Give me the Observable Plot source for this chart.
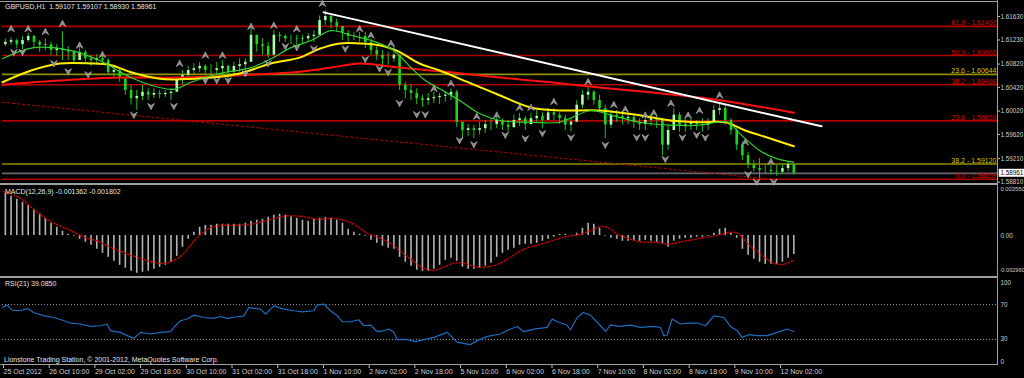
<!DOCTYPE html>
<html><head><meta charset="utf-8">
<script src="https://cdn.jsdelivr.net/npm/d3@7"></script>
<script src="https://cdn.jsdelivr.net/npm/@observablehq/plot@0.6"></script>
<style>
body{margin:0;background:#000;}
#wrap{position:relative;width:1024px;height:378px;overflow:hidden;background:#000;font-family:"Liberation Sans",Arial,sans-serif;}
.panel{position:absolute;left:0;}
.ln{position:absolute;background:#a0a0a0;}
.lbl{position:absolute;color:#e4e4e4;font-size:7px;line-height:8px;white-space:pre;}
</style></head><body>
<div id="wrap">
  <div class="panel" id="pPrice" style="top:0px"></div>
  <div class="panel" id="pMacd" style="top:185px"></div>
  <div class="panel" id="pRsi" style="top:277px"></div>
  <div class="ln" style="left:0;top:1px;width:998px;height:1px"></div>
  <div class="ln" style="left:0;top:183px;width:998px;height:2px"></div>
  <div class="ln" style="left:0;top:276px;width:998px;height:2px"></div>
  <div class="ln" style="left:0;top:364px;width:998px;height:1px"></div>
  <div class="ln" style="left:997px;top:0;width:1px;height:365px"></div>
  <div class="lbl" style="left:5px;top:3px">GBPUSD,H1  1.59107 1.59107 1.58930 1.58961</div>
  <div class="lbl" style="left:5px;top:188px">MACD(12,26,9) -0.001362 -0.001802</div>
  <div class="lbl" style="left:5px;top:280px">RSI(21) 39.0850</div>
  <div class="lbl" style="left:4px;top:356px">Lionstone Trading Station, © 2001-2012, MetaQuotes Software Corp.</div>
</div>
<script>
// ---------- data ----------
const tickHours = [0,16,32,48,64,80,96,112,128,144,160,176,192,208,224,240,256,272];
const timeLabels = ["25 Oct 2012","26 Oct 10:00","29 Oct 02:00","29 Oct 18:00","30 Oct 10:00","31 Oct 02:00","31 Oct 18:00","1 Nov 10:00","2 Nov 02:00","2 Nov 18:00","5 Nov 10:00","6 Nov 02:00","6 Nov 18:00","7 Nov 10:00","8 Nov 02:00","8 Nov 18:00","9 Nov 10:00","12 Nov 02:00"];
const priceTicks = [1.6163,1.6123,1.6082,1.6042,1.6002,1.5962,1.5921,1.5881];
const xMaxHour = 348.3;
const priceDomain = [1.58787, 1.61868];

// 2-hour bars
const barHigh = [1.6125,1.6127,1.6125,1.6129,1.6134,1.6131,1.6122,1.6125,1.6119,1.6115,
1.6137,1.6112,1.6105,1.6112,1.6105,1.6097,1.6098,1.6102,1.6091,1.6080,
1.6074,1.6057,1.6046,1.6037,1.6046,1.6040,1.6040,1.6037,1.6037,1.6040,
1.6057,1.6071,1.6078,1.6083,1.6085,1.6081,1.6081,1.6085,1.6088,1.6080,
1.6085,1.6091,1.6091,1.6148,1.6131,1.6125,1.6119,1.6139,1.6136,1.6132,
1.6131,1.6131,1.6131,1.6134,1.6139,1.6164,1.6173,1.6166,1.6159,1.6142,
1.6139,1.6136,1.6136,1.6136,1.6125,1.6114,1.6105,1.6102,1.6114,1.6097,
1.6051,1.6047,1.6040,1.6029,1.6032,1.6034,1.6032,1.6034,1.6040,1.6037,
1.5983,1.5979,1.5978,1.5983,1.5986,1.5989,1.5993,1.5989,1.5986,1.5995,
1.5998,1.5993,1.5998,1.6003,1.5999,1.6006,1.6006,1.5999,1.5995,1.5989,
1.6020,1.6037,1.6044,1.6037,1.6029,1.6012,1.6003,1.6003,1.5999,1.5999,
1.5995,1.5989,1.5993,1.5996,1.5993,1.5989,1.5978,1.6006,1.5999,1.5989,
1.5989,1.5986,1.5989,1.5989,1.6012,1.6015,1.6012,1.5989,1.5972,1.5949,
1.5932,1.5918,1.5921,1.5911,1.5910,1.5910,1.5911,1.5915,1.59107];
const barLow = [1.6112,1.6114,1.6108,1.6107,1.6119,1.6110,1.6102,1.6105,1.6097,1.6095,
1.6088,1.6088,1.6081,1.6088,1.6085,1.6078,1.6080,1.6081,1.6063,1.6057,
1.6051,1.6029,1.6012,1.6003,1.6020,1.6020,1.6023,1.6023,1.6025,1.6020,
1.6034,1.6046,1.6054,1.6063,1.6068,1.6061,1.6057,1.6061,1.6063,1.6054,
1.6063,1.6068,1.6063,1.6085,1.6102,1.6097,1.6091,1.6114,1.6119,1.6119,
1.6115,1.6114,1.6115,1.6119,1.6119,1.6131,1.6148,1.6142,1.6136,1.6122,
1.6119,1.6122,1.6119,1.6108,1.6097,1.6088,1.6080,1.6080,1.6085,1.6037,
1.6023,1.6020,1.6013,1.6008,1.6012,1.6015,1.6013,1.6017,1.6020,1.5974,
1.5955,1.5959,1.5955,1.5961,1.5964,1.5969,1.5972,1.5969,1.5966,1.5972,
1.5976,1.5969,1.5978,1.5983,1.5972,1.5986,1.5986,1.5979,1.5969,1.5966,
1.5986,1.6006,1.6020,1.6012,1.5999,1.5955,1.5972,1.5983,1.5978,1.5979,
1.5972,1.5969,1.5969,1.5976,1.5972,1.5926,1.5935,1.5969,1.5966,1.5966,
1.5969,1.5969,1.5966,1.5969,1.5983,1.5995,1.5978,1.5961,1.5935,1.5918,
1.5904,1.5898,1.5887,1.5894,1.5893,1.5891,1.5894,1.5898,1.58930];
const barClose = [1.6119,1.6122,1.6115,1.6122,1.6129,1.6119,1.6114,1.6115,1.6105,1.6108,
1.6105,1.6102,1.6088,1.6102,1.6091,1.6088,1.6091,1.6088,1.6068,1.6071,
1.6057,1.6037,1.6023,1.6027,1.6034,1.6029,1.6032,1.6030,1.6032,1.6034,
1.6054,1.6063,1.6071,1.6074,1.6078,1.6071,1.6071,1.6074,1.6078,1.6068,
1.6078,1.6081,1.6085,1.6131,1.6115,1.6112,1.6097,1.6131,1.6129,1.6125,
1.6125,1.6124,1.6125,1.6129,1.6131,1.6156,1.6163,1.6153,1.6146,1.6134,
1.6129,1.6129,1.6129,1.6119,1.6105,1.6097,1.6091,1.6091,1.6097,1.6046,
1.6037,1.6032,1.6023,1.6020,1.6023,1.6025,1.6027,1.6029,1.6034,1.5983,
1.5969,1.5972,1.5969,1.5972,1.5979,1.5979,1.5986,1.5978,1.5974,1.5986,
1.5989,1.5979,1.5989,1.5993,1.5986,1.5999,1.5995,1.5989,1.5978,1.5983,
1.6012,1.6029,1.6034,1.6020,1.6006,1.5978,1.5995,1.5993,1.5989,1.5991,
1.5983,1.5979,1.5986,1.5989,1.5986,1.5944,1.5969,1.5995,1.5978,1.5979,
1.5981,1.5979,1.5978,1.5983,1.6003,1.6006,1.5986,1.5969,1.5944,1.5926,
1.5910,1.5904,1.5901,1.5901,1.5899,1.5898,1.5904,1.59107,1.58961];
const firstOpen = 1.6115;
const lastClose = 1.58961;

// moving averages
const greenHours = [0,11,24,34,45,52,60,66,76,87,94,101,108,115,122,131,137,143,148,153,160,167,174,185,195,206,213,223,234,244,250,254,258,265,271,277];
const greenPrices = [1.6091,1.6110,1.6105,1.6088,1.6059,1.6046,1.6039,1.6051,1.6066,1.6076,1.6091,1.6110,1.6122,1.6139,1.6131,1.6119,1.6105,1.6076,1.6054,1.6040,1.6020,1.5998,1.5986,1.5983,1.5983,1.6003,1.5995,1.5983,1.5978,1.5978,1.5983,1.5983,1.5964,1.5935,1.5921,1.5915];
const yellowHours = [0,10,20,31,38,45,55,62,73,83,94,104,111,118,125,132,138,146,153,164,174,185,195,209,223,234,244,253,260,269,277];
const yellowPrices = [1.6051,1.6071,1.6083,1.6083,1.6080,1.6068,1.6057,1.6056,1.6059,1.6066,1.6083,1.6093,1.6108,1.6117,1.6117,1.6114,1.6105,1.6083,1.6071,1.6049,1.6029,1.6008,1.6003,1.6003,1.5995,1.5986,1.5983,1.5983,1.5969,1.5955,1.5942];
const redHours = [0,20,41,62,83,104,115,125,139,157,174,192,209,227,244,262,277];
const redPrices = [1.6047,1.6054,1.6059,1.6059,1.6063,1.6069,1.6076,1.6083,1.6076,1.6068,1.6059,1.6051,1.6042,1.6034,1.6025,1.6012,1.5999];

// trend lines
const trendHours = [112.4, 286.7];
const trendPrices = [1.6170, 1.5976];
const dotHours = [0, 267];
const dotPrices = [1.6017, 1.5887];

// fibonacci levels
const fibPrices = [1.61462,1.60965,1.60644,1.60468,1.59853,1.59120,1.58859];
const fibRatios = ["61.8","50.0","23.6","38.2","23.6","38.2","0.0"];
const fibSets = ["red","red","yellow","red","red","yellow","red"];

// fractals
const upFracHours = [3,9,15,21,27,35,62,71,77,87,95,103,112,125,129,136,151,157,166,173,181,185,193,205,214,218,225,228,234,240,244,251,260,269];
const upFracPrices = [1.6142,1.6142,1.6137,1.6151,1.6114,1.6098,1.6083,1.6097,1.6097,1.6146,1.6148,1.6142,1.6185,1.6142,1.6131,1.6117,1.6040,1.6049,1.5993,1.5995,1.6008,1.6008,1.6018,1.6052,1.6013,1.6005,1.5995,1.5999,1.6015,1.5995,1.6003,1.6029,1.5949,1.5916];
const downFracHours = [4,7,18,23,30,46,52,60,71,75,79,85,93,99,103,109,120,127,132,135,139,145,148,160,165,176,183,189,199,211,222,225,232,238,243,246,261,264,270];
const downFracPrices = [1.6102,1.6102,1.6083,1.6069,1.6064,1.5995,1.6010,1.6010,1.6054,1.6054,1.6054,1.6066,1.6083,1.6112,1.6110,1.6108,1.6108,1.6090,1.6074,1.6068,1.6015,1.5996,1.5996,1.5952,1.5945,1.5961,1.5955,1.5964,1.5957,1.5944,1.5957,1.5957,1.5920,1.5957,1.5961,1.5957,1.5894,1.5881,1.5881];

// MACD (2-hour)
const macdHist = [0.00306,0.00284,0.00262,0.00241,0.00219,0.00190,0.00161,0.00125,0.00089,0.00060,
0.00031,0.00009,-0.00005,-0.00027,-0.00048,-0.00070,-0.00099,-0.00128,-0.00157,-0.00186,
-0.00215,-0.00236,-0.00258,-0.00273,-0.00265,-0.00258,-0.00244,-0.00229,-0.00215,-0.00193,
-0.00150,-0.00085,-0.00027,0.00024,0.00060,0.00074,0.00074,0.00082,0.00082,0.00082,
0.00082,0.00082,0.00089,0.00103,0.00111,0.00118,0.00132,0.00147,0.00154,0.00147,
0.00140,0.00125,0.00111,0.00103,0.00118,0.00125,0.00132,0.00125,0.00111,0.00089,
0.00046,0.00024,0.00009,-0.00005,-0.00034,-0.00056,-0.00077,-0.00092,-0.00099,-0.00157,
-0.00193,-0.00222,-0.00251,-0.00258,-0.00258,-0.00244,-0.00215,-0.00179,-0.00164,-0.00186,
-0.00229,-0.00244,-0.00244,-0.00236,-0.00222,-0.00200,-0.00157,-0.00128,-0.00106,-0.00092,
-0.00070,-0.00063,-0.00063,-0.00056,-0.00041,-0.00027,-0.00012,0.00009,0.00009,0.00002,
0.00017,0.00053,0.00089,0.00082,0.00053,-0.00005,-0.00020,-0.00027,-0.00041,-0.00041,
-0.00041,-0.00041,-0.00034,-0.00041,-0.00048,-0.00063,-0.00085,-0.00041,-0.00027,-0.00020,
-0.00020,-0.00012,-0.00012,-0.00005,0.00017,0.00046,0.00053,0.00017,-0.00020,-0.00099,
-0.00142,-0.00171,-0.00193,-0.00208,-0.00208,-0.00208,-0.00193,-0.00164,-0.00136];
const macdDomain = [-0.00296, 0.00355];
const signalHours = [0.4,6.3,10.9,16.8,22.8,29.8,33.3,37.8,44.8,51.8,57.1,62.3,67.6,71.8,76.3,80.9,86.8,92.8,98.4,104.3,110.3,115.9,119.4,122.9,127.8,132.3,135.8,139.3,143.9,147.4,150.9,154.4,157.9,161.4,164.9,168.4,173.3,177.8,182.4,188.3,192.9,197.8,202.3,206.9,210,212.8,215.3,219.8,224.4,229.3,232.8,238.4,244.3,250.3,254.8,257.3,261.8,266.4,269.9,273.4,276.9];
const signalValues = [0.00320,0.00270,0.00190,0.00103,0.00046,-0.00020,-0.00041,-0.00085,-0.00142,-0.00186,-0.00200,-0.00150,-0.00027,0.00046,0.00074,0.00074,0.00082,0.00111,0.00140,0.00140,0.00118,0.00125,0.00111,0.00082,0.00017,-0.00020,-0.00056,-0.00114,-0.00186,-0.00236,-0.00251,-0.00229,-0.00200,-0.00200,-0.00222,-0.00229,-0.00208,-0.00157,-0.00099,-0.00063,-0.00034,-0.00005,0.00009,0.00046,0.00067,0.00046,0.00009,-0.00027,-0.00048,-0.00048,-0.00063,-0.00041,-0.00020,0.00002,0.00024,0.00017,-0.00077,-0.00150,-0.00200,-0.00208,-0.00180];

// RSI(21)
const rsiHours = [0,1.6,3.4,6.3,8.6,11,14.5,18,21.5,23.8,27.3,30.8,34.3,36.6,37.8,41.3,43.6,46,48.3,51.8,55.3,58.8,60,62.3,64.6,67,70.5,74,76.3,78.6,82.1,84.5,86.2,90.3,92.1,95,98.5,102,104.9,109,110.2,112.5,114.8,117.2,118.9,121.8,124.7,126.5,128.8,131.2,133.5,135.2,137,138.2,141.7,144.6,147.5,151,155.7,159.2,163.8,166.2,169.7,174.3,177.2,180.2,182.5,186,190.7,192.4,194.2,197.6,198.8,201.2,203.3,205.8,209.3,211.1,212.8,216.3,219.8,223.3,228,230.3,231.5,232.7,234.4,237.3,239.7,243.2,246.1,249,252.5,254.8,257.2,258.9,261.2,264.2,267.7,271.2,274.7,277];
const rsiValues = [66.6,69.4,63.7,62.9,65.5,60.9,57.1,55.2,51.4,48.8,47.7,44.9,45.7,47.7,40,38.1,34.3,31.2,38.1,36.2,38.1,38.9,43.8,51.4,53.4,57.9,55.2,54.1,56.3,54.1,56,57.1,66.6,64.8,59.1,68.6,64.8,62.9,61.7,62.9,69.7,70.5,62.9,57.1,50.3,50.3,52.6,45.7,46.5,38.9,40,41.9,38.1,29.7,29.7,27.4,29.7,32.3,38.1,26.6,24,28.6,33.5,36.2,41.1,44.9,38.9,41.9,43.8,53.4,50.3,46.5,41.1,55.2,60.9,57.9,45.7,39.2,46.5,44.9,46.5,43.8,44.9,43.8,34.3,35.1,53.4,47.7,48.8,48.8,45.7,57.1,55.2,44.9,40,32.3,35.4,34.3,34.3,38.1,41.9,39.1];
const rsiLevels = [70, 30];

// ---------- helpers ----------
const zip = (xs, ys) => xs.map((x, i) => ({x, y: ys[i]}));
const bars = barHigh.map((h, k) => ({hour: 2*k + 1, high: h, low: barLow[k], close: barClose[k], open: k ? barClose[k-1] : firstOpen}));
const fib = fibPrices.map((p, i) => ({p, ratio: fibRatios[i], set: fibSets[i]}));
const fibLine = {red: "#b00000", yellow: "#8f8f00"};
const fibText = {red: "#d80000", yellow: "#caca00"};
const arrowUp = {draw(ctx, size) {const r = Math.sqrt(size / Math.PI); ctx.moveTo(0, -r); ctx.lineTo(r, r*0.9); ctx.lineTo(0, r*0.25); ctx.lineTo(-r, r*0.9); ctx.closePath();}};
const arrowDown = {draw(ctx, size) {const r = Math.sqrt(size / Math.PI); ctx.moveTo(0, r); ctx.lineTo(r, -r*0.9); ctx.lineTo(0, -r*0.25); ctx.lineTo(-r, -r*0.9); ctx.closePath();}};
const axisFont = {fontSize: 6.3};
const common = {width: 1024, marginLeft: 2, marginRight: 27,
  x: {domain: [0, xMaxHour], axis: null, label: null},
  color: {type: "identity"},
  style: {background: "transparent", overflow: "visible", fontFamily: "Liberation Sans, Arial, sans-serif", fontSize: "7px", color: "#cfcfcf"}};

// ---------- price panel ----------
const price = Plot.plot({...common, height: 184, marginTop: 2, marginBottom: 1,
  y: {domain: priceDomain, axis: null, label: null},
  marks: [
    Plot.ruleY(fib, {y: "p", stroke: d => fibLine[d.set], strokeWidth: 1.6}),
    Plot.ruleY([lastClose], {stroke: "#676772", strokeWidth: 1.8}),
    Plot.line(zip(dotHours, dotPrices), {x: "x", y: "y", stroke: "#c00000", strokeWidth: 1, strokeDasharray: "2,3"}),
    Plot.ruleX(bars, {x: "hour", y1: "low", y2: "high", stroke: "#1ebe1e", strokeWidth: 1}),
    Plot.ruleX(bars, {x: "hour", y1: "open", y2: "close", stroke: d => d.close >= d.open ? "#a6ffa6" : "#18d818", strokeWidth: 2.6}),
    Plot.line(zip(redHours, redPrices), {x: "x", y: "y", stroke: "#ff1010", strokeWidth: 2, curve: "catmull-rom"}),
    Plot.line(zip(yellowHours, yellowPrices), {x: "x", y: "y", stroke: "#ffee00", strokeWidth: 2, curve: "catmull-rom"}),
    Plot.line(zip(greenHours, greenPrices), {x: "x", y: "y", stroke: "#30d030", strokeWidth: 1.2, curve: "catmull-rom"}),
    Plot.line(zip(trendHours, trendPrices), {x: "x", y: "y", stroke: "#ffffff", strokeWidth: 2}),
    Plot.dot(zip(upFracHours, upFracPrices), {x: "x", y: "y", symbol: arrowUp, r: 3.4, fill: "#8a8a8a", stroke: "#c4c4c4", strokeWidth: 0.5}),
    Plot.dot(zip(downFracHours, downFracPrices), {x: "x", y: "y", symbol: arrowDown, r: 3.4, fill: "#8a8a8a", stroke: "#c4c4c4", strokeWidth: 0.5}),
    Plot.text(fib, {x: xMaxHour, y: "p", text: d => `${d.ratio} - ${d.p.toFixed(5)}`, fill: d => fibText[d.set], textAnchor: "end", lineAnchor: "bottom", dx: -1, dy: -1}),
    Plot.axisY({anchor: "right", ticks: priceTicks, tickFormat: d => d.toFixed(5), tickSize: 2, tickPadding: 1, stroke: "#bdbdbd", label: null, ...axisFont}),
    Plot.rect([lastClose], {x1: xMaxHour + 0.6, x2: xMaxHour + 12, y1: d => d - 0.00068, y2: d => d + 0.00068, fill: "#ffffff"}),
    Plot.text([lastClose], {x: xMaxHour, y: d => d, text: d => d.toFixed(5), textAnchor: "start", dx: 3, fill: "#000000", ...axisFont})
  ]});
document.getElementById("pPrice").append(price);

// ---------- MACD panel ----------
const macdData = macdHist.map((v, k) => ({hour: 2*k + 1, v}));
const macd = Plot.plot({...common, height: 92, marginTop: 1, marginBottom: 1,
  y: {domain: macdDomain, axis: null, label: null},
  marks: [
    Plot.ruleX(macdData, {x: "hour", y1: 0, y2: "v", stroke: "#b4b4b4", strokeWidth: 1.6}),
    Plot.line(zip(signalHours, signalValues), {x: "x", y: "y", stroke: "#d40000", strokeWidth: 1.3, strokeDasharray: "1.5,2", curve: "catmull-rom"}),
    Plot.text([macdDomain[1]], {x: xMaxHour, y: d => d, text: d => d.toFixed(6), textAnchor: "start", dx: 3, dy: 3, fill: "#cfcfcf", fontSize: 5.8}),
    Plot.text([0], {x: xMaxHour, y: d => d, text: () => "0.00", textAnchor: "start", dx: 3, fill: "#cfcfcf", ...axisFont}),
    Plot.text([macdDomain[0]], {x: xMaxHour, y: d => d, text: d => d.toFixed(6), textAnchor: "start", dx: 2, dy: -6, fill: "#cfcfcf", fontSize: 5.6})
  ]});
document.getElementById("pMacd").append(macd);

// ---------- RSI panel ----------
const rsi = Plot.plot({...common, height: 101, marginTop: 1, marginBottom: 13,
  y: {domain: [0, 100], axis: null, label: null},
  marks: [
    Plot.ruleY(rsiLevels, {stroke: "#9c9c9c", strokeDasharray: "1,2"}),
    Plot.line(zip(rsiHours, rsiValues), {x: "x", y: "y", stroke: "#1c6cc0", strokeWidth: 1.2}),
    Plot.text([100], {x: xMaxHour, y: d => d, text: d => String(d), textAnchor: "start", dx: 3, dy: 4, fill: "#cfcfcf", ...axisFont}),
    Plot.text(rsiLevels, {x: xMaxHour, y: d => d, text: d => String(d), textAnchor: "start", dx: 3, fill: "#cfcfcf", ...axisFont}),
    Plot.text([0], {x: xMaxHour, y: d => d, text: d => String(d), textAnchor: "start", dx: 3, dy: -4, fill: "#cfcfcf", ...axisFont}),
    Plot.axisX({anchor: "bottom", ticks: tickHours, tickFormat: d => timeLabels[tickHours.indexOf(d)], tickSize: 3, tickPadding: 1, textAnchor: "start", dx: 1, stroke: "#bdbdbd", fill: "#cfcfcf", label: null})
  ]});
document.getElementById("pRsi").append(rsi);
</script>
</body></html>
